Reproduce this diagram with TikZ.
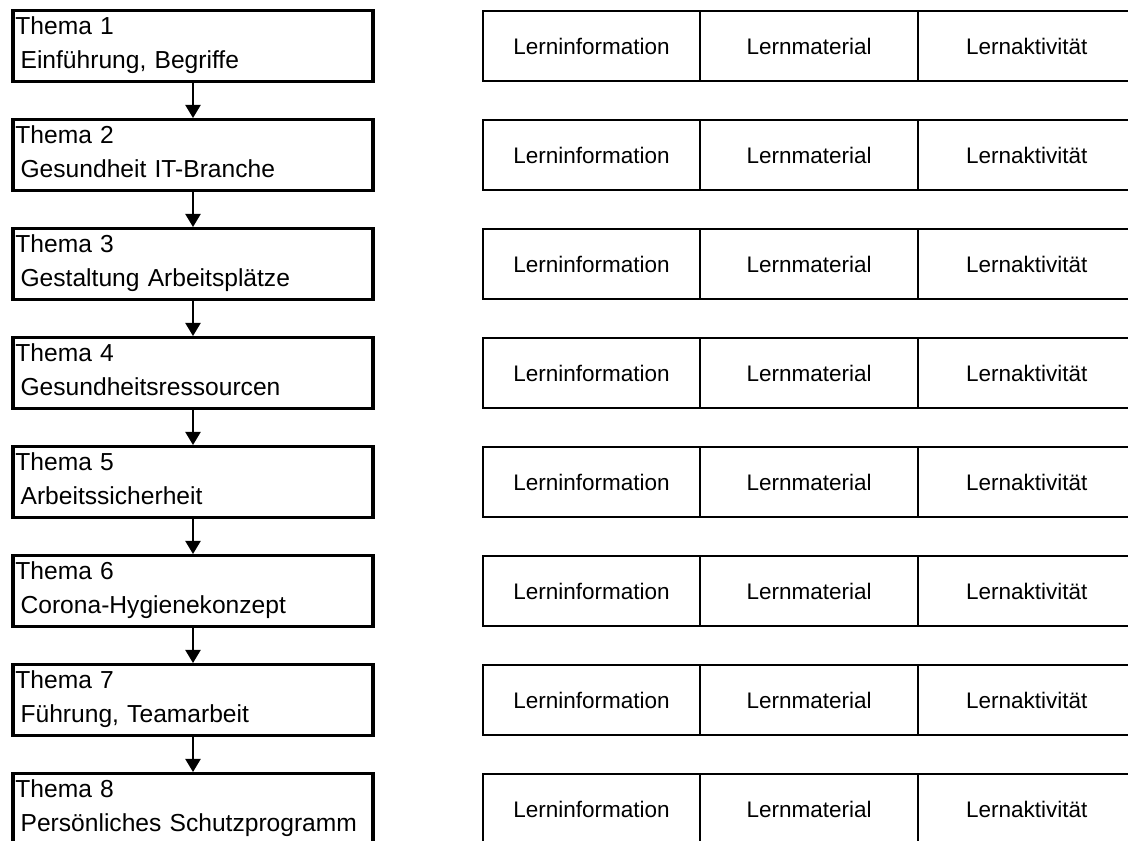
\documentclass[tikz,border=0pt]{standalone}
\usepackage{fontspec}
\setmainfont{Liberation Sans}
\usetikzlibrary{arrows.meta}

\begin{document}
\begin{tikzpicture}[
    thema/.style={draw, line width=2.3pt, minimum width=9cm, minimum height=1.7625cm,
        inner xsep=0.06cm, inner ysep=0pt, text width=8.88cm, align=left,
        font=\fontsize{17.5}{24.2}\selectfont,
        execute at end node={\rule[-0.16cm]{0pt}{0pt}}},
    teil/.style={draw, line width=1.4pt, minimum width=5.44cm, minimum height=1.7625cm,
        font=\fontsize{16}{19}\selectfont},
    folge/.style={line width=2pt, -{Triangle[width=0.37cm,length=0.33cm]}}]
    \useasboundingbox (0,0) rectangle (28.2,-21.025);
    \clip (0,0) rectangle (28.2,-21.025);
    % Themen links
    \node[thema] (t1) at (4.825,-1.15) {Thema 1\\\hspace*{0.13cm}Einführung, Begriffe};
    \node[thema] (t2) at (4.825,-3.875) {Thema 2\\\hspace*{0.13cm}Gesundheit IT-Branche};
    \node[thema] (t3) at (4.825,-6.6) {Thema 3\\\hspace*{0.13cm}Gestaltung Arbeitsplätze};
    \node[thema] (t4) at (4.825,-9.325) {Thema 4\\\hspace*{0.13cm}Gesundheitsressourcen};
    \node[thema] (t5) at (4.825,-12.05) {Thema 5\\\hspace*{0.13cm}Arbeitssicherheit};
    \node[thema] (t6) at (4.825,-14.775) {Thema 6\\\hspace*{0.13cm}Corona-Hygienekonzept};
    \node[thema] (t7) at (4.825,-17.5) {Thema 7\\\hspace*{0.13cm}Führung, Teamarbeit};
    \node[thema] (t8) at (4.825,-20.225) {Thema 8\\\hspace*{0.13cm}Persönliches Schutzprogramm};
    \draw[folge] (t1) -- (t2);
    \draw[folge] (t2) -- (t3);
    \draw[folge] (t3) -- (t4);
    \draw[folge] (t4) -- (t5);
    \draw[folge] (t5) -- (t6);
    \draw[folge] (t6) -- (t7);
    \draw[folge] (t7) -- (t8);
    % Lernbausteine rechts
    \node[teil] (li1) at (14.79,-1.15) {Lerninformation};
    \node[teil] (lm1) at (20.23,-1.15) {Lernmaterial};
    \node[teil] (la1) at (25.67,-1.15) {Lernaktivität};
    \node[teil] (li2) at (14.79,-3.875) {Lerninformation};
    \node[teil] (lm2) at (20.23,-3.875) {Lernmaterial};
    \node[teil] (la2) at (25.67,-3.875) {Lernaktivität};
    \node[teil] (li3) at (14.79,-6.6) {Lerninformation};
    \node[teil] (lm3) at (20.23,-6.6) {Lernmaterial};
    \node[teil] (la3) at (25.67,-6.6) {Lernaktivität};
    \node[teil] (li4) at (14.79,-9.325) {Lerninformation};
    \node[teil] (lm4) at (20.23,-9.325) {Lernmaterial};
    \node[teil] (la4) at (25.67,-9.325) {Lernaktivität};
    \node[teil] (li5) at (14.79,-12.05) {Lerninformation};
    \node[teil] (lm5) at (20.23,-12.05) {Lernmaterial};
    \node[teil] (la5) at (25.67,-12.05) {Lernaktivität};
    \node[teil] (li6) at (14.79,-14.775) {Lerninformation};
    \node[teil] (lm6) at (20.23,-14.775) {Lernmaterial};
    \node[teil] (la6) at (25.67,-14.775) {Lernaktivität};
    \node[teil] (li7) at (14.79,-17.5) {Lerninformation};
    \node[teil] (lm7) at (20.23,-17.5) {Lernmaterial};
    \node[teil] (la7) at (25.67,-17.5) {Lernaktivität};
    \node[teil] (li8) at (14.79,-20.225) {Lerninformation};
    \node[teil] (lm8) at (20.23,-20.225) {Lernmaterial};
    \node[teil] (la8) at (25.67,-20.225) {Lernaktivität};
\end{tikzpicture}
\end{document}
